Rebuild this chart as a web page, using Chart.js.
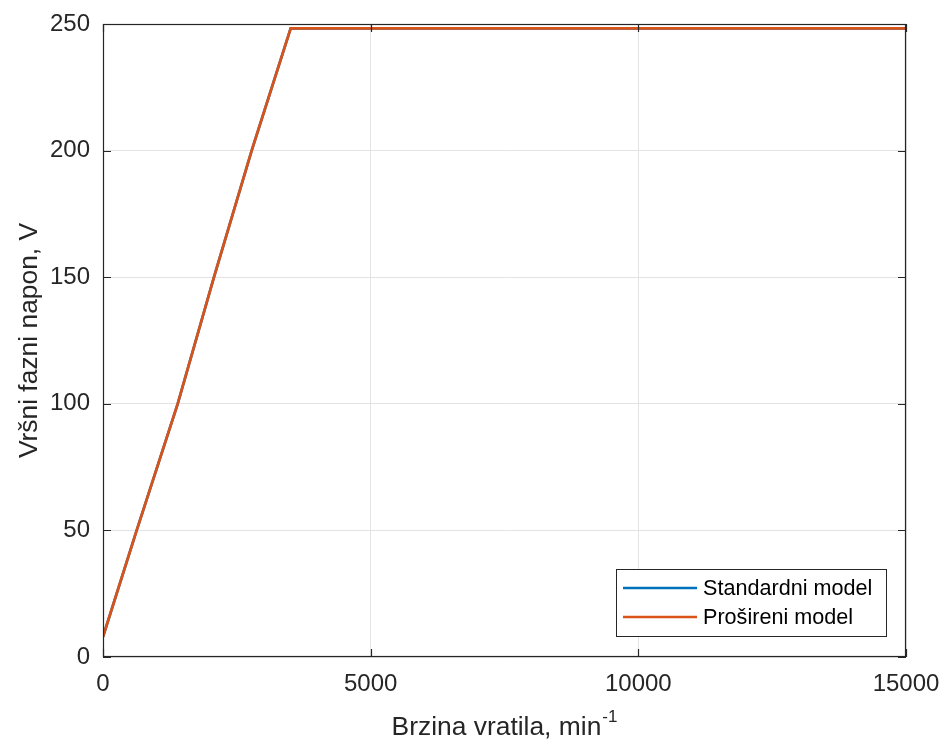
<!DOCTYPE html>
<html>
<head>
<meta charset="utf-8">
<script src="https://cdn.jsdelivr.net/npm/chart.js@4.4.1/dist/chart.umd.min.js"></script>
<style>
  html, body { margin: 0; padding: 0; background: #ffffff; }
  #wrap { width: 946px; height: 747px; }
</style>
</head>
<body>
<div id="wrap"><canvas id="c" width="946" height="747"></canvas></div>
<script>
// ---- data ----
const speedRpm   = [0, 629, 1395, 2073, 2777, 3506, 15000];
const standardV  = [8, 50, 100, 150, 200, 248.3, 248.3];
const extendedV  = [8, 50, 100, 150, 200, 248.3, 248.3];
const seriesNames = ['Standardni model', 'Prošireni model'];
const xTickValues = [0, 5000, 10000, 15000];
const yTickValues = [0, 50, 100, 150, 200, 250];
const xTitle = 'Brzina vratila, min';
const xTitleSup = '-1';
const yTitle = 'Vršni fazni napon, V';

const FONT = '"Liberation Sans", Arial, Helvetica, sans-serif';
const INK = '#262626';
const colors = ['#0072BD', '#D95319'];

function pts(xs, ys) { return xs.map((x, i) => ({ x: x, y: ys[i] })); }

const framePlugin = {
  id: 'frame',
  afterDraw(chart) {
    const ctx = chart.ctx;
    const a = chart.chartArea;
    const xs = chart.scales.x, ys = chart.scales.y;
    ctx.save();
    // axes box
    ctx.strokeStyle = INK;
    ctx.lineWidth = 1.2;
    ctx.strokeRect(a.left + 0.5, a.top + 0.5, a.right - a.left - 1, a.bottom - a.top - 1);
    // inward tick marks on all four sides
    const tl = 8;
    ctx.beginPath();
    xTickValues.forEach(v => {
      const px = Math.round(xs.getPixelForValue(v)) + 0.5;
      ctx.moveTo(px, a.bottom); ctx.lineTo(px, a.bottom - tl);
      ctx.moveTo(px, a.top); ctx.lineTo(px, a.top + tl);
    });
    yTickValues.forEach(v => {
      const py = Math.round(ys.getPixelForValue(v)) + 0.5;
      ctx.moveTo(a.left, py); ctx.lineTo(a.left + tl, py);
      ctx.moveTo(a.right, py); ctx.lineTo(a.right - tl, py);
    });
    ctx.stroke();

    // x axis title with superscript
    ctx.fillStyle = INK;
    ctx.textBaseline = 'alphabetic';
    ctx.font = '26.4px ' + FONT;
    const mainW = ctx.measureText(xTitle).width;
    ctx.font = '17px ' + FONT;
    const supW = ctx.measureText(xTitleSup).width;
    const total = mainW + supW + 1;
    const cx = (a.left + a.right) / 2;
    const startX = cx - total / 2;
    ctx.font = '26.4px ' + FONT;
    ctx.textAlign = 'left';
    ctx.fillText(xTitle, startX, 735);
    ctx.font = '17px ' + FONT;
    ctx.fillText(xTitleSup, startX + mainW + 1, 722);

    // y axis title
    ctx.save();
    ctx.translate(36.5, (a.top + a.bottom) / 2);
    ctx.rotate(-Math.PI / 2);
    ctx.font = '26.4px ' + FONT;
    ctx.textAlign = 'center';
    ctx.fillText(yTitle, 0, 0);
    ctx.restore();

    // legend (inside plot, bottom right)
    const lx = 616, ly = 569, lw = 270, lh = 67;
    ctx.fillStyle = '#ffffff';
    ctx.fillRect(lx, ly, lw, lh);
    ctx.strokeStyle = INK;
    ctx.lineWidth = 1;
    ctx.strokeRect(lx + 0.5, ly + 0.5, lw, lh);
    const rows = [588, 617];
    chart.data.datasets.forEach((ds, i) => {
      ctx.strokeStyle = ds.borderColor;
      ctx.lineWidth = 2.5;
      ctx.beginPath();
      ctx.moveTo(623, rows[i]); ctx.lineTo(697, rows[i]);
      ctx.stroke();
      ctx.fillStyle = '#000000';
      ctx.font = '21.6px ' + FONT;
      ctx.textAlign = 'left';
      ctx.textBaseline = 'middle';
      ctx.fillText(ds.label, 703, rows[i] + 1);
    });
    ctx.restore();
  }
};

new Chart(document.getElementById('c'), {
  type: 'line',
  data: {
    datasets: [
      { label: seriesNames[0], data: pts(speedRpm, standardV), borderColor: colors[0], backgroundColor: colors[0], borderWidth: 2.7, pointRadius: 0, tension: 0, fill: false, order: 2 },
      { label: seriesNames[1], data: pts(speedRpm, extendedV), borderColor: colors[1], backgroundColor: colors[1], borderWidth: 2.7, pointRadius: 0, tension: 0, fill: false, order: 1 }
    ]
  },
  options: {
    responsive: false,
    animation: false,
    devicePixelRatio: 1,
    layout: { autoPadding: false, padding: { top: 24, right: 40, left: 0, bottom: 0 } },
    plugins: { legend: { display: false }, tooltip: { enabled: false } },
    scales: {
      x: {
        type: 'linear', min: 0, max: 15000,
        afterBuildTicks(s) { s.ticks = xTickValues.map(v => ({ value: v })); },
        afterFit(s) { s.height = 90; s.paddingLeft = 0; s.paddingRight = 0; },
        grid: { color: '#e3e3e3', lineWidth: 1, drawTicks: false },
        border: { display: false },
        ticks: { color: INK, font: { family: FONT, size: 24 }, padding: 13, maxRotation: 0, autoSkip: false, callback: v => String(v) }
      },
      y: {
        type: 'linear', min: 0, max: 250,
        afterBuildTicks(s) { s.ticks = yTickValues.map(v => ({ value: v })); },
        afterFit(s) { s.width = 103; s.paddingTop = 0; s.paddingBottom = 0; },
        grid: { color: '#e3e3e3', lineWidth: 1, drawTicks: false },
        border: { display: false },
        ticks: { color: INK, font: { family: FONT, size: 24, lineHeight: 1 }, padding: 13, callback: v => String(v) }
      }
    }
  },
  plugins: [framePlugin]
});
</script>
</body>
</html>
